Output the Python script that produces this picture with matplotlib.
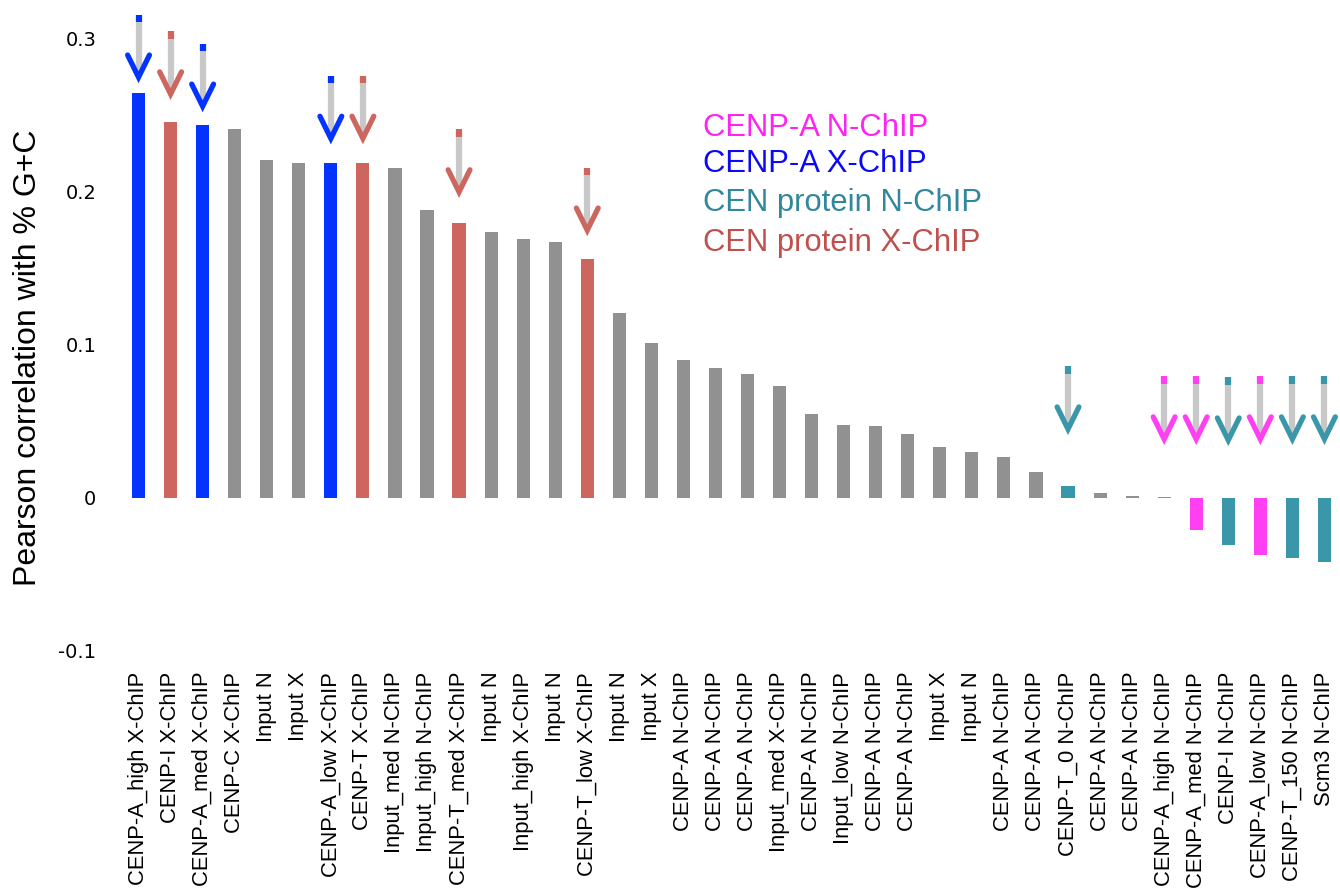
import matplotlib
matplotlib.use("Agg")
import matplotlib.pyplot as plt
import numpy as np


labels = [
    "CENP-A_high X-ChIP", "CENP-I X-ChIP", "CENP-A_med X-ChIP", "CENP-C X-ChIP",
    "Input N", "Input X", "CENP-A_low X-ChIP", "CENP-T X-ChIP",
    "Input_med N-ChIP", "Input_high N-ChIP", "CENP-T_med X-ChIP", "Input N",
    "Input_high X-ChIP", "Input N", "CENP-T_low X-ChIP", "Input N", "Input X",
    "CENP-A N-ChIP", "CENP-A N-ChIP", "CENP-A N-ChIP", "Input_med X-ChIP",
    "CENP-A N-ChIP", "Input_low N-ChIP", "CENP-A N-ChIP", "CENP-A N-ChIP",
    "Input X", "Input N", "CENP-A N-ChIP", "CENP-A N-ChIP", "CENP-T_0 N-ChIP",
    "CENP-A N-ChIP", "CENP-A N-ChIP", "CENP-A_high N-ChIP", "CENP-A_med N-ChIP",
    "CENP-I N-ChIP", "CENP-A_low N-ChIP", "CENP-T_150 N-ChIP", "Scm3 N-ChIP",
]

values = [
    0.265, 0.246, 0.244, 0.241, 0.221, 0.219, 0.219, 0.219, 0.216, 0.188,
    0.180, 0.174, 0.169, 0.167, 0.156, 0.121, 0.101, 0.090, 0.085, 0.081,
    0.073, 0.055, 0.048, 0.047, 0.042, 0.033, 0.030, 0.027, 0.017, 0.008,
    0.003, 0.001, 0.0006, -0.021, -0.031, -0.037, -0.039, -0.042,
]

# group of each bar: "" = input / background (grey)
groups = [
    "AX", "PX", "AX", "", "", "", "AX", "PX", "", "", "PX", "", "", "", "PX",
    "", "", "", "", "", "", "", "", "", "", "", "", "", "", "PN",
    "", "", "AN", "AN", "PN", "AN", "PN", "PN",
]

legend_labels = {
    "AN": "CENP-A N-ChIP",
    "AX": "CENP-A X-ChIP",
    "PN": "CEN protein N-ChIP",
    "PX": "CEN protein X-ChIP",
}

# where the arrow tips sit above the highlighted bars
arrow_tips = {
    0: 0.275, 1: 0.264, 2: 0.256, 6: 0.235, 7: 0.235, 10: 0.200, 14: 0.175,
    29: 0.045, 32: 0.0385, 33: 0.0385, 34: 0.0378, 35: 0.0385, 36: 0.0385,
    37: 0.0385,
}

BAR_COLORS = {"": "#919191", "AX": "#0433FF", "PX": "#CC665F",
              "PN": "#3A97AA", "AN": "#FF40F2"}
TEXT_COLORS = {"AN": "#FF22F0", "AX": "#0A0AF5", "PN": "#31879B",
               "PX": "#C0504D"}


def draw_arrow(ax, x, tip, color):
    length = 0.040
    top = tip + length
    ax.plot([x, x], [tip + 0.004, top - 0.004], color="#C8C8C8", lw=4.5,
            solid_capstyle="butt", zorder=3)
    ax.plot([x, x], [top - 0.004, top + 0.001], color=color, lw=4.5,
            solid_capstyle="butt", zorder=4)
    ax.plot([x - 0.34, x, x + 0.34], [tip + 0.0145, tip, tip + 0.0145],
            color=color, lw=3.8, solid_capstyle="round",
            solid_joinstyle="miter", zorder=4)


def main() -> None:
    plt.rcParams["font.family"] = ["Liberation Sans", "DejaVu Sans"]
    fig = plt.figure(figsize=(13.4, 8.92), dpi=100)
    ax = fig.add_axes([0.0821, 0.2702, 0.918, 0.7204])

    x = np.arange(len(values))
    colors = [BAR_COLORS[g] for g in groups]
    ax.bar(x, values, width=0.41, color=colors, zorder=2)

    for i, tip in arrow_tips.items():
        draw_arrow(ax, i, tip, BAR_COLORS[groups[i]])

    ax.set_xlim(-0.89, 37.49)
    ax.set_ylim(-0.1, 0.32)
    ax.set_yticks([-0.1, 0, 0.1, 0.2, 0.3])
    ax.set_yticklabels(["-0.1", "0", "0.1", "0.2", "0.3"],
                       family="DejaVu Sans", fontsize=14)
    ax.set_xticks(x)
    ax.set_xticklabels(labels, rotation=90, fontsize=15.8, va="top")
    ax.tick_params(axis="x", length=0, pad=15)
    ax.tick_params(axis="y", length=0, pad=10)
    for spine in ax.spines.values():
        spine.set_visible(False)

    ax.set_ylabel("Pearson correlation with % G+C", fontsize=23)
    ax.yaxis.set_label_coords(-0.0545, 0.457)

    y_text = [0.2415, 0.218, 0.1925, 0.1665]
    for key, yt in zip(["AN", "AX", "PN", "PX"], y_text):
        ax.text(17.6, yt, legend_labels[key], color=TEXT_COLORS[key],
                fontsize=22.3, va="center", ha="left")

    fig.savefig("out.png", dpi=100)


if __name__ == "__main__":
    main()
